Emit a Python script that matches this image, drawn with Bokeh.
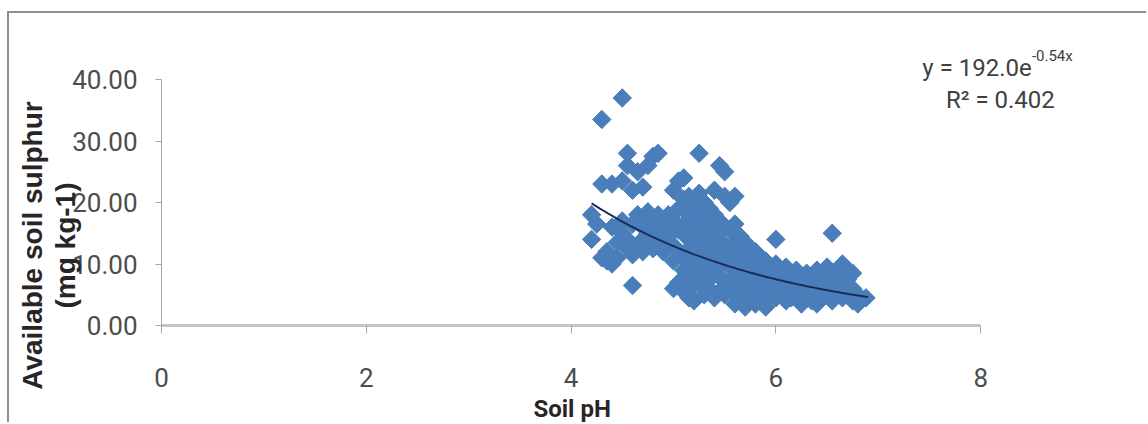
import numpy as np
from bokeh.plotting import figure
from bokeh.models import Range1d, FixedTicker, NumeralTickFormatter, Label
from bokeh.embed import file_html
from bokeh.resources import INLINE

# ---- data ----
soil_ph = [
    4.20, 4.20, 4.25, 4.30, 4.30, 4.30, 4.35, 4.35, 4.40, 4.40, 4.40, 4.45, 4.45,
    4.50, 4.50, 4.50, 4.50, 4.55, 4.55, 4.55, 4.55, 4.60, 4.60, 4.60, 4.60,
    4.65, 4.65, 4.65, 4.70, 4.70, 4.70, 4.70, 4.75, 4.75, 4.75, 4.75,
    4.80, 4.80, 4.80, 4.80, 4.85, 4.85, 4.85, 4.85, 4.90, 4.90, 4.90, 4.90,
    4.95, 4.95, 4.95, 5.00, 5.00, 5.00, 5.00, 5.00, 5.05, 5.05, 5.05, 5.05, 5.05,
    5.10, 5.10, 5.10, 5.10, 5.10, 5.10, 5.15, 5.15, 5.15, 5.15, 5.15, 5.15,
    5.20, 5.20, 5.20, 5.20, 5.20, 5.20, 5.20, 5.25, 5.25, 5.25, 5.25, 5.25, 5.25, 5.25,
    5.30, 5.30, 5.30, 5.30, 5.30, 5.30, 5.30, 5.35, 5.35, 5.35, 5.35, 5.35, 5.35,
    5.40, 5.40, 5.40, 5.40, 5.40, 5.40, 5.45, 5.45, 5.45, 5.45, 5.45, 5.45,
    5.50, 5.50, 5.50, 5.50, 5.50, 5.50, 5.50, 5.55, 5.55, 5.55, 5.55, 5.55,
    5.60, 5.60, 5.60, 5.60, 5.60, 5.60, 5.60, 5.65, 5.65, 5.65, 5.65, 5.65,
    5.70, 5.70, 5.70, 5.70, 5.70, 5.75, 5.75, 5.75, 5.75, 5.75,
    5.80, 5.80, 5.80, 5.80, 5.80, 5.85, 5.85, 5.85, 5.85, 5.90, 5.90, 5.90, 5.90,
    5.95, 5.95, 5.95, 6.00, 6.00, 6.00, 6.00, 6.00, 6.05, 6.05, 6.05,
    6.10, 6.10, 6.10, 6.10, 6.15, 6.15, 6.15, 6.20, 6.20, 6.20, 6.20,
    6.25, 6.25, 6.25, 6.30, 6.30, 6.30, 6.35, 6.35, 6.35, 6.40, 6.40, 6.40, 6.40,
    6.45, 6.45, 6.45, 6.50, 6.50, 6.50, 6.55, 6.55, 6.55, 6.55, 6.60, 6.60, 6.60,
    6.65, 6.65, 6.65, 6.65, 6.70, 6.70, 6.70, 6.75, 6.75, 6.75, 6.80, 6.80, 6.88,
]
sulphur = [
    14.0, 18.0, 16.5, 33.5, 23.0, 11.0, 10.5, 12.0, 23.0, 10.0, 16.0, 11.0, 13.5,
    37.0, 23.5, 17.0, 15.0, 28.0, 26.0, 12.5, 14.0, 22.0, 16.5, 6.5, 11.5,
    25.0, 18.0, 13.0, 22.5, 16.0, 14.0, 12.0, 26.0, 18.5, 15.0, 17.5,
    27.5, 17.0, 13.5, 12.5, 28.0, 18.0, 15.5, 14.0, 16.5, 13.0, 12.0, 17.0,
    15.0, 18.0, 14.5, 22.0, 17.0, 13.0, 10.5, 6.0, 23.5, 19.0, 15.5, 12.0, 7.0,
    24.0, 20.5, 16.5, 11.0, 9.0, 5.5, 21.0, 18.0, 14.0, 12.5, 8.0, 4.5,
    19.5, 17.0, 15.0, 12.0, 10.0, 6.5, 4.0, 28.0, 21.5, 18.5, 16.0, 13.5, 9.5, 7.0,
    20.0, 17.5, 14.5, 12.5, 11.0, 8.5, 5.0, 19.0, 16.5, 13.5, 10.0, 7.5, 6.0,
    22.0, 18.0, 15.0, 12.0, 9.0, 4.5, 26.0, 17.0, 14.0, 11.0, 8.0, 5.5,
    25.0, 21.0, 16.0, 13.0, 10.5, 7.0, 5.0, 20.0, 15.5, 12.5, 9.5, 6.5,
    21.0, 16.5, 13.5, 11.5, 8.0, 5.0, 3.5, 14.5, 12.0, 10.0, 7.5, 4.5,
    13.5, 11.0, 9.0, 6.0, 3.0, 12.5, 10.5, 8.5, 5.5, 4.0,
    12.0, 9.5, 7.5, 5.0, 3.5, 11.0, 9.0, 6.5, 4.5, 10.5, 8.0, 6.0, 3.0,
    9.5, 7.0, 5.0, 14.0, 10.0, 8.5, 6.0, 4.5, 9.0, 7.5, 5.5,
    9.5, 7.0, 5.0, 4.0, 8.5, 6.5, 4.5, 9.0, 7.5, 6.0, 4.5,
    8.0, 5.5, 3.5, 8.5, 6.5, 5.0, 7.5, 5.5, 4.0, 9.0, 7.0, 5.0, 3.5,
    8.0, 6.0, 4.5, 9.5, 7.5, 5.5, 15.0, 8.5, 6.5, 4.0, 9.0, 7.0, 5.0,
    10.0, 8.0, 6.0, 4.5, 9.0, 7.5, 5.5, 8.5, 6.0, 4.0, 5.0, 3.5, 4.5,
]
x_ticks = [0, 2, 4, 6, 8]
y_ticks = [0, 10, 20, 30, 40]
fit_a = 192.0
fit_b = -0.54
fit_x_range = [4.2, 6.9]
eq_main = "y = 192.0e"
eq_sup = "-0.54x"
r2_text = "R\u00b2 = 0.402"
x_title = "Soil pH"
y_title_1 = "Available soil sulphur"
y_title_2 = "(mg kg-1)"

FONT = "Roboto"

# canvas starts at page (9, 13); axis origin at page (161, 325)
PX_X = 102.4   # pixels per pH unit
PX_Y = 6.15    # pixels per mg/kg
W, H = 1139, 411
x0 = (9 - 161) / PX_X
y1 = (325 - 13) / PX_Y

p = figure(width=W, height=H, output_backend="svg", toolbar_location=None,
           x_range=Range1d(x0, x0 + W / PX_X), y_range=Range1d(y1 - H / PX_Y, y1),
           min_border=0)
p.styles = {"border-top": "2px solid #8f8f8f", "border-left": "2px solid #8f8f8f",
            "margin-top": "11px", "margin-left": "7px"}
p.outline_line_color = None
p.grid.visible = False
p.background_fill_color = "white"
p.border_fill_color = "white"

# axes placed at the data origin
p.xaxis.fixed_location = 0
p.yaxis.fixed_location = 0
p.xaxis.bounds = (x_ticks[0], x_ticks[-1])
p.yaxis.bounds = (y_ticks[0], y_ticks[-1])
p.xaxis.ticker = FixedTicker(ticks=x_ticks)
p.yaxis.ticker = FixedTicker(ticks=y_ticks)
p.yaxis.formatter = NumeralTickFormatter(format="0.00")
p.xaxis.minor_tick_line_color = None
p.yaxis.minor_tick_line_color = None
p.xaxis.axis_line_color = "#c4c4c4"
p.xaxis.axis_line_width = 3
p.yaxis.axis_line_color = "#a6a6a6"
p.yaxis.axis_line_width = 1
p.xaxis.major_tick_line_color = "#a6a6a6"
p.yaxis.major_tick_line_color = "#a6a6a6"
p.xaxis.major_tick_in = 0
p.xaxis.major_tick_out = 8
p.yaxis.major_tick_in = 0
p.yaxis.major_tick_out = 6
for ax in (p.xaxis, p.yaxis):
    ax.major_label_text_font = FONT
    ax.major_label_text_font_size = "26px"
    ax.major_label_text_color = "#4d4d4d"
p.xaxis.major_label_standoff = 34
p.yaxis.major_label_standoff = 18

# scatter
p.scatter(soil_ph, sulphur, marker="square", angle=np.pi / 4, size=13,
          fill_color="#4a7ebb", line_color="#4a7ebb", line_width=1)

# exponential trend line from the printed coefficients
fx = np.linspace(fit_x_range[0], fit_x_range[1], 100)
fy = fit_a * np.exp(fit_b * fx)
p.line(fx, fy, line_color="#1c2b55", line_width=2)

# equation texts
p.add_layout(Label(x=7.43, y=41.9, text=eq_main, text_font=FONT,
                   text_font_size="24px", text_color="#404040",
                   text_baseline="alphabetic"))
p.add_layout(Label(x=8.50, y=43.9, text=eq_sup, text_font=FONT,
                   text_font_size="15px", text_color="#404040",
                   text_baseline="alphabetic"))
p.add_layout(Label(x=7.66, y=36.6, text=r2_text, text_font=FONT,
                   text_font_size="24px", text_color="#404040",
                   text_baseline="alphabetic"))

# axis titles
p.add_layout(Label(x=-1.26, y=13.0, text=y_title_1, angle=np.pi / 2,
                   text_font="Liberation Sans", text_font_style="bold",
                   text_font_size="28px", text_color="#262626",
                   text_align="center", text_baseline="middle"))
p.add_layout(Label(x=-0.94, y=13.0, text=y_title_2, angle=np.pi / 2,
                   text_font="Liberation Sans", text_font_style="bold",
                   text_font_size="28px", text_color="#262626",
                   text_align="center", text_baseline="middle"))
p.add_layout(Label(x=4.01, y=-13.5, text=x_title,
                   text_font=FONT, text_font_style="bold",
                   text_font_size="24px", text_color="#262626",
                   text_align="center", text_baseline="middle"))

open("out.html", "w").write(file_html(p, INLINE))
